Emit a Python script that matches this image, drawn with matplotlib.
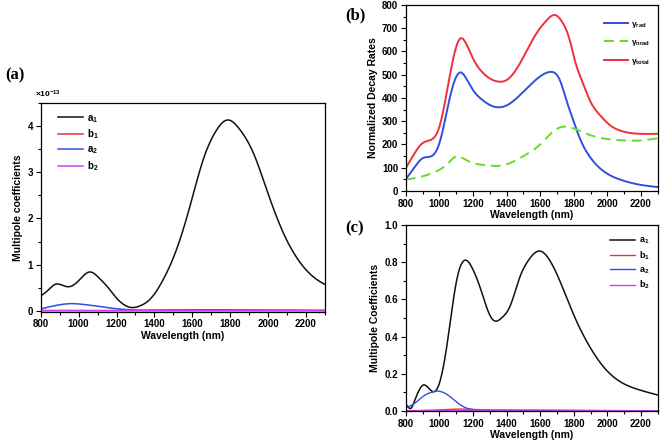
import matplotlib
matplotlib.use("Agg")
import matplotlib.pyplot as plt
import numpy as np
from matplotlib.ticker import MultipleLocator

plt.rcParams['font.family'] = ['Liberation Sans', 'DejaVu Sans']
plt.rcParams['font.weight'] = 'bold'
plt.rcParams['axes.labelweight'] = 'bold'
plt.rcParams['mathtext.fontset'] = 'custom'
plt.rcParams['mathtext.rm'] = 'Liberation Sans:bold'
plt.rcParams['mathtext.bf'] = 'Liberation Sans:bold'
plt.rcParams['mathtext.it'] = 'Liberation Sans:bold'

# ---- Panel (a): multipole coefficients (x1e-13) ----
wl_a = [800, 840, 875, 910, 946, 1000, 1057, 1113, 1150, 1201, 1240, 1280, 1320, 1377,
        1447, 1517, 1588, 1658, 1729, 1781, 1852, 1922, 1992, 2080, 2168, 2256, 2300]
a1_a = [0.32, 0.45, 0.57, 0.56, 0.52, 0.65, 0.84, 0.69, 0.53, 0.27, 0.13, 0.07, 0.10, 0.25,
        0.68, 1.33, 2.27, 3.28, 3.92, 4.13, 3.92, 3.42, 2.63, 1.69, 1.05, 0.68, 0.57]
wl_a2 = [800, 850, 900, 963, 1020, 1080, 1148, 1236, 1300, 1400, 1600, 1800, 2000, 2150, 2300]
a2_a = [0.04, 0.09, 0.13, 0.155, 0.14, 0.11, 0.07, 0.03, 0.015, 0.015, 0.02, 0.02, 0.015, 0.01, 0.01]
b1_a = [0.005, 0.006, 0.006, 0.006, 0.005, 0.005, 0.004, 0.004, 0.004, 0.004, 0.005, 0.005, 0.005, 0.004, 0.004]
b2_a = [0.002, 0.002, 0.002, 0.002, 0.002, 0.002, 0.002, 0.002, 0.002, 0.002, 0.003, 0.003, 0.003, 0.002, 0.002]

# ---- Panel (b): normalized decay rates ----
wl_rad = [800, 850, 900, 950, 1000, 1050, 1100, 1125, 1150, 1200, 1250, 1300, 1360, 1400,
          1479, 1550, 1600, 1657, 1717, 1756, 1796, 1836, 1895, 1994, 2093, 2193, 2300]
rad_b = [51, 100, 141, 149, 206, 363, 491, 510, 495, 434, 395, 370, 360, 368,
         412, 462, 493, 512, 477, 391, 306, 227, 148, 77, 45, 27, 17]
wl_tot = [800, 850, 900, 950, 1000, 1050, 1100, 1125, 1150, 1200, 1250, 1300, 1360, 1400,
          1479, 1578, 1640, 1687, 1730, 1776, 1806, 1855, 1895, 1955, 2014, 2093, 2193, 2300]
total_b = [99, 160, 206, 220, 277, 449, 620, 656, 645, 570, 515, 484, 470, 477,
           548, 678, 735, 757, 728, 649, 563, 463, 391, 327, 284, 256, 246, 246]
wl_nrad = [800, 850, 900, 950, 1000, 1050, 1100, 1150, 1200, 1250, 1300, 1350, 1400,
           1450, 1500, 1550, 1600, 1677, 1747, 1796, 1895, 1994, 2113, 2193, 2300]
nrad_b = [49, 55, 63, 75, 91, 118, 149, 137, 120, 113, 109, 108, 115,
          130, 150, 172, 200, 256, 277, 270, 241, 224, 217, 217, 227]

# ---- Panel (c): multipole coefficients ----
wl_c = [800, 815, 830, 850, 870, 905, 950, 970, 1000, 1042, 1102, 1161, 1200, 1240, 1280,
        1310, 1340, 1370, 1419, 1479, 1530, 1594, 1657, 1717, 1796, 1895, 1994, 2093, 2193, 2300]
a1_c = [0.036, 0.02, 0.014, 0.05, 0.095, 0.14, 0.11, 0.104, 0.15, 0.337, 0.70, 0.81, 0.76,
        0.67, 0.56, 0.50, 0.483, 0.50, 0.56, 0.72, 0.81, 0.86, 0.81, 0.70, 0.525, 0.346,
        0.22, 0.149, 0.113, 0.086]
wl_c2 = [800, 850, 900, 950, 990, 1050, 1100, 1150, 1200, 1300, 1500, 1700, 1900, 2100, 2300]
a2_c = [0.018, 0.04, 0.077, 0.10, 0.107, 0.086, 0.05, 0.02, 0.008, 0.004, 0.003, 0.003, 0.002, 0.001, 0.001]
b1_c = [0.002, 0.002, 0.003, 0.004, 0.006, 0.008, 0.010, 0.010, 0.008, 0.005, 0.003, 0.002, 0.002, 0.001, 0.001]
b2_c = [0.001, 0.001, 0.001, 0.001, 0.002, 0.002, 0.003, 0.003, 0.004, 0.004, 0.005, 0.004, 0.003, 0.002, 0.001]

BLACK = '#111111'
RED = '#f0303a'
BLUE = '#2f4fe0'
MAG = '#cc44ee'
GREEN = '#66dd22'


def smooth(x, y, n=500):
    """Natural cubic spline through the read points (display smoothing only)."""
    x = np.asarray(x, float); y = np.asarray(y, float)
    N = len(x)
    h = np.diff(x)
    A = np.zeros((N, N)); r = np.zeros(N)
    A[0, 0] = 1; A[-1, -1] = 1
    for i in range(1, N - 1):
        A[i, i - 1] = h[i - 1]
        A[i, i] = 2 * (h[i - 1] + h[i])
        A[i, i + 1] = h[i]
        r[i] = 6 * ((y[i + 1] - y[i]) / h[i] - (y[i] - y[i - 1]) / h[i - 1])
    M = np.linalg.solve(A, r)
    xs = np.linspace(x[0], x[-1], n)
    idx = np.clip(np.searchsorted(x, xs) - 1, 0, N - 2)
    hi = h[idx]
    a = x[idx + 1] - xs; b = xs - x[idx]
    ys = (M[idx] * a**3 + M[idx + 1] * b**3) / (6 * hi) \
        + (y[idx] / hi - M[idx] * hi / 6) * a + (y[idx + 1] / hi - M[idx + 1] * hi / 6) * b
    return xs, ys


def style(ax):
    ax.set_xlim(800, 2300)
    ax.xaxis.set_major_locator(MultipleLocator(200))
    ax.xaxis.set_minor_locator(MultipleLocator(100))
    ax.tick_params(which='both', direction='out', labelsize=7, width=0.8,
                   top=False, right=False, pad=2)
    ax.tick_params(which='major', length=3.5)
    ax.tick_params(which='minor', length=2)
    for s in ax.spines.values():
        s.set_linewidth(0.9)
    ax.set_xlabel('Wavelength (nm)', fontsize=7.5, fontweight='bold', labelpad=1)


fig = plt.figure(figsize=(6.61, 4.41), dpi=100)

# (a)
axa = fig.add_axes([0.0616, 0.2932, 0.430, 0.4732])
lw = 1.1
axa.plot(*smooth(wl_a, a1_a), color=BLACK, lw=lw, label=r'$\mathbf{a_1}$')
axa.plot(*smooth(wl_a2, b1_a), color=RED, lw=lw, label=r'$\mathbf{b_1}$')
axa.plot(*smooth(wl_a2, a2_a), color=BLUE, lw=lw, label=r'$\mathbf{a_2}$')
axa.plot(*smooth(wl_a2, b2_a), color=MAG, lw=lw, label=r'$\mathbf{b_2}$')
axa.set_ylim(-0.02, 4.5)
axa.yaxis.set_major_locator(MultipleLocator(1))
axa.yaxis.set_minor_locator(MultipleLocator(0.5))
style(axa)
axa.set_ylabel('Multipole coefficients', fontsize=7.5, fontweight='bold', labelpad=3)
axa.text(-0.02, 1.015, r'$\times$10$^{-13}$', transform=axa.transAxes, fontsize=6,
         fontweight='bold', ha='left', va='bottom')
axa.legend(loc='upper left', bbox_to_anchor=(0.03, 0.995), frameon=False, fontsize=7,
           handlelength=2.6, handletextpad=0.4, labelspacing=0.3)

# (b)
axb = fig.add_axes([0.614, 0.5669, 0.381, 0.4218])
axb.plot(*smooth(wl_rad, rad_b), color=BLUE, lw=1.4, label=r'$\mathrm{\gamma_{rad}}$')
axb.plot(*smooth(wl_nrad, nrad_b), color=GREEN, lw=1.4, ls=(0, (5, 3)), label=r'$\mathrm{\gamma_{nrad}}$')
axb.plot(*smooth(wl_tot, total_b), color=RED, lw=1.4, label=r'$\mathrm{\gamma_{total}}$')
axb.set_ylim(0, 800)
axb.yaxis.set_major_locator(MultipleLocator(100))
axb.yaxis.set_minor_locator(MultipleLocator(50))
style(axb)
axb.set_ylabel('Normalized Decay Rates', fontsize=7.5, fontweight='bold', labelpad=3)
axb.legend(loc='upper right', bbox_to_anchor=(1.0, 0.96), frameon=False, fontsize=6,
           handlelength=2.8, handletextpad=0.4, labelspacing=1.0)

# (c)
axc = fig.add_axes([0.614, 0.068, 0.381, 0.4218])
axc.plot(*smooth(wl_c, a1_c), color=BLACK, lw=1.1, label=r'$\mathbf{a_1}$')
axc.plot(*smooth(wl_c2, b1_c), color=RED, lw=1.0, label=r'$\mathbf{b_1}$')
axc.plot(*smooth(wl_c2, a2_c), color=BLUE, lw=1.0, label=r'$\mathbf{a_2}$')
axc.plot(*smooth(wl_c2, b2_c), color=MAG, lw=1.0, label=r'$\mathbf{b_2}$')
axc.set_ylim(0, 1.0)
axc.yaxis.set_major_locator(MultipleLocator(0.2))
axc.yaxis.set_minor_locator(MultipleLocator(0.1))
style(axc)
axc.set_ylabel('Multipole Coefficients', fontsize=7.5, fontweight='bold', labelpad=3)
axc.legend(loc='upper right', bbox_to_anchor=(1.0, 0.985), frameon=False, fontsize=6.5,
           handlelength=2.8, handletextpad=0.4, labelspacing=0.35)

# panel labels
fig.text(0.008, 0.83, '(a)', fontsize=12, fontweight='bold', family='Liberation Serif', va='center')
fig.text(0.523, 0.966, '(b)', fontsize=12, fontweight='bold', family='Liberation Serif', va='center')
fig.text(0.523, 0.482, '(c)', fontsize=12, fontweight='bold', family='Liberation Serif', va='center')

fig.savefig('out.png', dpi=100)
